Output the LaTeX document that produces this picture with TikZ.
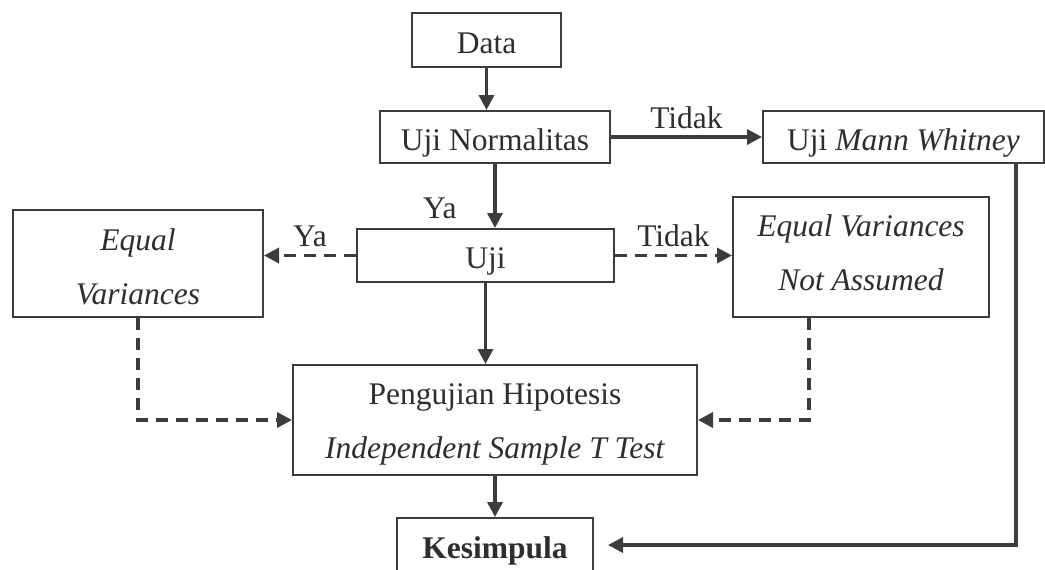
\documentclass[tikz,border=0pt]{standalone}
\usepackage{fontspec}
\setmainfont{Liberation Serif}
\usetikzlibrary{arrows.meta}
\definecolor{lc}{HTML}{3C3C3C}
\definecolor{tc}{HTML}{2E2E2E}

\begin{document}
\begin{tikzpicture}[x=0.5pt,y=-0.5pt,>={Triangle[length=7.5pt,width=7.5pt]}]
\tikzstyle{box}=[draw=lc,line width=1pt,text=tc,inner sep=0pt,font=\fontsize{15.75}{27}\selectfont,text height=13pt,text depth=0pt]
\tikzstyle{box2}=[box,align=center]
\tikzstyle{edge}=[draw=lc,line width=1.7pt,->]
\tikzstyle{dedge}=[edge,dash pattern=on 6pt off 4pt]
\tikzstyle{lbl}=[text=tc,font=\fontsize{15.75}{19}\selectfont]
\path[use as bounding box,clip] (0,0) rectangle (1045,569);
    \node[box,minimum width=74.5pt,minimum height=27pt] (data) at (486.5,40) {Data};
    \node[box,minimum width=115pt,minimum height=26pt] (norm) at (495,137) {Uji Normalitas};
    \node[box,minimum width=140.5pt,minimum height=26pt] (mann) at (903.5,137) {Uji \textit{Mann Whitney}};
    \node[box,minimum width=128.5pt,minimum height=26.5pt] (uji) at (485.5,255.5) {Uji};
    \node[box2,text height=40.5pt,minimum width=125pt,minimum height=53.5pt] (eqv) at (138,263.5) {\textit{Equal}\\\textit{Variances}};
    \node[box2,text height=33pt,minimum width=128pt,minimum height=60pt] (neqv) at (861,257) {\textit{Equal Variances}\\\textit{Not Assumed}};
    \node[box2,text height=38pt,minimum width=202pt,minimum height=55pt] (hipo) at (495,420) {Pengujian Hipotesis\\\textit{Independent Sample T Test}};
    \node[box,minimum width=98pt,minimum height=27pt] (kes) at (495,545) {\textbf{Kesimpula}};
    \draw[edge] (data) -- (data |- norm.north);
    \draw[edge] (norm) -- node[lbl,left,pos=0.7,xshift=-15pt] (ya1) {Ya} (norm |- uji.north);
    \draw[edge] (norm) -- node[lbl,above] (tidak1) {Tidak} (mann);
    \draw[edge] (uji) -- (uji |- hipo.north);
    \draw[edge] (hipo) -- (hipo |- kes.north);
    \draw[dedge] (uji) -- node[lbl,above] (ya2) {Ya} (uji -| eqv.east);
    \draw[dedge] (uji) -- node[lbl,above] (tidak2) {Tidak} (uji -| neqv.west);
    \draw[dedge] (eqv) |- (hipo);
    \draw[dedge] ([xshift=-26pt]neqv.south) |- (hipo.east);
    \draw[edge,shorten >=7pt] ([xshift=-14.5pt]mann.south east) |- (kes.east);
\end{tikzpicture}
\end{document}
